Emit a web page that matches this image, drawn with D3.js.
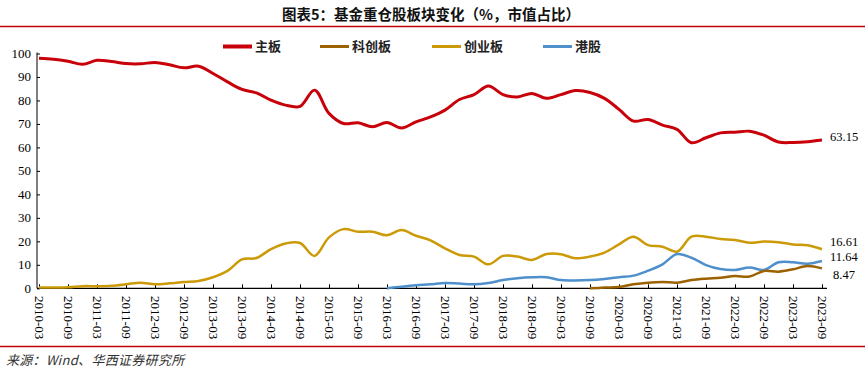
<!DOCTYPE html>
<html>
<head>
<meta charset="utf-8">
<script src="https://cdn.jsdelivr.net/npm/d3@7"></script>
<style>
    body { margin: 0; background: #fff; }
    svg { display: block; }
</style>
</head>
<body>
<svg id="chart" width="865" height="372"></svg>
<script>
// quarterly periods 2010-03 .. 2023-09
const years = d3.range(2010, 2024);
const periods = [];
years.forEach((yr) =>
{
    ['03', '06', '09', '12'].forEach((m) =>
    {
        if (yr === 2023 && m === '12') return;
        periods.push(yr + '-' + m);
    });
});

const mainBoard = [98.0, 97.6, 96.7, 95.4, 97.1, 96.6, 95.7, 95.6, 96.2, 95.2,
    93.9, 94.6, 91.5, 87.9, 84.7, 83.2, 80.1, 78.0, 77.5, 84.4,
    74.5, 70.2, 70.5, 68.8, 70.6, 68.3, 70.9, 73.0, 75.9, 80.4,
    82.5, 86.2, 82.5, 81.5, 83.0, 80.9, 82.5, 84.2, 83.4, 80.9,
    76.2, 71.2, 71.9, 69.5, 67.7, 62.0, 64.1, 66.2, 66.5, 66.9,
    65.2, 62.3, 62.1, 62.4, 63.15];

const chiNext = [0.3, 0.3, 0.4, 0.9, 0.9, 1.1, 1.7, 2.4, 1.7, 2.1,
    2.7, 3.1, 4.7, 7.4, 12.3, 12.9, 16.7, 19.1, 19.3, 13.8,
    21.7, 25.2, 24.1, 24.1, 22.6, 24.8, 22.4, 20.4, 17.0, 14.2,
    13.5, 10.2, 13.8, 13.5, 12.1, 14.6, 14.5, 12.8, 13.5, 15.2,
    18.7, 22.0, 18.4, 17.7, 15.6, 22.0, 22.0, 21.0, 20.6, 19.4,
    19.9, 19.6, 18.7, 18.3, 16.61];

// 港股 from 2016-03, 科创板 from 2019-09
const hkStart = 24;
const hk = [0.0, 0.7, 1.3, 1.7, 2.3, 2.0, 1.7, 2.3, 3.5, 4.3,
    4.7, 4.7, 3.5, 3.3, 3.5, 4.0, 4.7, 5.4, 7.5, 10.2,
    14.6, 13.0, 9.9, 8.2, 7.8, 8.9, 7.8, 11.1, 11.1, 10.5, 11.64];

const starStart = 38;
const star = [0.0, 0.3, 0.6, 1.7, 2.4, 2.7, 2.4, 3.5, 4.1, 4.5,
    5.2, 5.0, 7.4, 7.1, 8.1, 9.5, 8.47];

const legendNames = ['主板', '科创板', '创业板', '港股'];
const yTicks = [0, 10, 20, 30, 40, 50, 60, 70, 80, 90, 100];

const series = [
    { name: '创业板', color: '#CC9A06', width: 2.5, start: 0, values: chiNext },
    { name: '港股', color: '#4F8FCB', width: 2.5, start: hkStart, values: hk },
    { name: '科创板', color: '#9C6200', width: 2.5, start: starStart, values: star },
    { name: '主板', color: '#C8000A', width: 3, start: 0, values: mainBoard },
];
const colorOf = {};
series.forEach((s) => { colorOf[s.name] = s.color; });

const svg = d3.select('#chart');
const plotLeft = 37;
const plotRight = 827;
const plotTop = 53.5;
const plotBottom = 288.3;

const x = d3.scalePoint().domain(periods).range([39, 822]);
const y = d3.scaleLinear().domain([0, 100]).range([plotBottom, plotTop]);

// title + rules
svg.append('text')
    .attr('x', 431)
    .attr('y', 20)
    .attr('text-anchor', 'middle')
    .attr('font-family', 'Noto Sans CJK SC')
    .attr('font-weight', 'bold')
    .attr('font-size', 14.5)
    .attr('fill', '#111')
    .text('图表5：基金重仓股板块变化（%，市值占比）');

svg.append('line')
    .attr('x1', 0).attr('x2', 865)
    .attr('y1', 26.5).attr('y2', 26.5)
    .attr('stroke', '#C0000A')
    .attr('stroke-width', 1.5);

svg.append('line')
    .attr('x1', 0).attr('x2', 865)
    .attr('y1', 346.5).attr('y2', 346.5)
    .attr('stroke', '#C0000A')
    .attr('stroke-width', 1.5);

svg.append('text')
    .attr('x', 6)
    .attr('y', 364.5)
    .attr('font-family', 'Noto Sans CJK SC')
    .attr('font-style', 'italic')
    .attr('font-size', 13)
    .attr('letter-spacing', 0.3)
    .attr('fill', '#333')
    .text('来源：Wind、华西证券研究所');

// legend
const legendX = [223, 320, 432, 543];
legendNames.forEach((name, i) =>
{
    const g = svg.append('g').attr('transform', 'translate(' + legendX[i] + ',46.5)');
    g.append('line')
        .attr('x1', 0).attr('x2', 29)
        .attr('y1', 0).attr('y2', 0)
        .attr('stroke', colorOf[name])
        .attr('stroke-width', name === '主板' ? 4 : 3);
    g.append('text')
        .attr('x', 32)
        .attr('y', 4.8)
        .attr('font-family', 'Noto Sans CJK SC')
        .attr('font-weight', 'bold')
        .attr('font-size', 13)
        .attr('fill', '#222')
        .text(name);
});

// y axis
const yAxis = svg.append('g')
    .attr('transform', 'translate(' + plotLeft + ',0)')
    .call(d3.axisRight(y).tickValues(yTicks).tickSize(3).tickFormat(''));
yAxis.select('.domain').remove();
yAxis.selectAll('.tick line').attr('stroke', '#000');
svg.append('line')
    .attr('x1', plotLeft).attr('x2', plotLeft)
    .attr('y1', plotTop - 1).attr('y2', plotBottom)
    .attr('stroke', '#000');
yTicks.forEach((t) =>
{
    svg.append('text')
        .attr('x', 31)
        .attr('y', y(t) + 4.5)
        .attr('text-anchor', 'end')
        .attr('font-family', 'Liberation Serif')
        .attr('font-size', 13)
        .attr('fill', '#000')
        .text(t);
});

// x axis
const xTicks = periods.filter((p, i) => i % 2 === 0);
const xAxis = svg.append('g')
    .attr('transform', 'translate(0,' + plotBottom + ')')
    .call(d3.axisTop(x).tickValues(xTicks).tickSize(4).tickFormat(''));
xAxis.select('.domain').remove();
xAxis.selectAll('.tick line').attr('stroke', '#000');
svg.append('line')
    .attr('x1', plotLeft).attr('x2', plotRight)
    .attr('y1', plotBottom).attr('y2', plotBottom)
    .attr('stroke', '#000')
    .attr('stroke-width', 1.2);
xTicks.forEach((p) =>
{
    svg.append('text')
        .attr('transform', 'translate(' + (x(p) - 4.5) + ',296) rotate(90)')
        .attr('font-family', 'Liberation Serif')
        .attr('font-size', 13)
        .attr('fill', '#000')
        .text(p);
});

// lines
const line = d3.line()
    .x((d) => x(d.p))
    .y((d) => y(d.v))
    .curve(d3.curveCatmullRom.alpha(0.5));

series.forEach((s) =>
{
    const pts = s.values.map((v, i) => ({ p: periods[s.start + i], v }));
    svg.append('path')
        .datum(pts)
        .attr('d', line)
        .attr('fill', 'none')
        .attr('stroke', s.color)
        .attr('stroke-width', s.width)
        .attr('stroke-linejoin', 'round');
});

// end labels (nudged apart like the original)
const endLabels = [
    { v: mainBoard[mainBoard.length - 1], dy: -3.2, dx: 8 },
    { v: chiNext[chiNext.length - 1], dy: -7.2, dx: 8 },
    { v: hk[hk.length - 1], dy: -4.7, dx: 8 },
    { v: star[star.length - 1], dy: 6.4, dx: 11 },
];
endLabels.forEach((d) =>
{
    svg.append('text')
        .attr('x', x(periods[periods.length - 1]) + d.dx)
        .attr('y', y(d.v) + 4.3 + d.dy)
        .attr('font-family', 'Liberation Serif')
        .attr('font-size', 12.5)
        .attr('fill', '#000')
        .text(d.v.toFixed(2));
});
</script>
</body>
</html>
